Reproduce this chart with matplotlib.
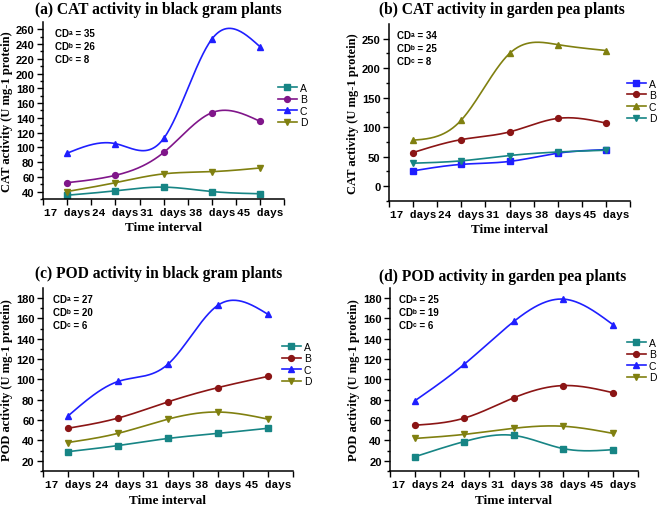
import numpy as np
import matplotlib
matplotlib.use("Agg")
import matplotlib.pyplot as plt

# dados
dias = ["17 days", "24 days", "31 days", "38 days", "45 days"]
series = ["A", "B", "C", "D"]

cat_preto_A = [35, 41, 46, 40, 37]
cat_preto_B = [52, 62, 93, 147, 135]
cat_preto_C = [92, 105, 112, 247, 236]
cat_preto_D = [40, 52, 64, 67, 72]

cat_ervilha_A = [26, 37, 42, 56, 62]
cat_ervilha_B = [57, 79, 92, 115, 107]
cat_ervilha_C = [78, 112, 225, 240, 230]
cat_ervilha_D = [39, 43, 52, 58, 61]

pod_preto_A = [29, 35, 42, 47, 52]
pod_preto_B = [52, 62, 78, 92, 103]
pod_preto_C = [64, 98, 115, 173, 164]
pod_preto_D = [38, 47, 61, 68, 61]

pod_ervilha_A = [24, 39, 45, 32, 31]
pod_ervilha_B = [55, 62, 82, 94, 87]
pod_ervilha_C = [79, 115, 157, 179, 154]
pod_ervilha_D = [42, 46, 52, 54, 47]

cd_valores = [(35, 26, 8), (34, 25, 8), (27, 20, 6), (25, 19, 6)]

TEAL = "#178585"
PURPLE = "#80168a"
BLUE = "#1f1fff"
OLIVE = "#808010"
DRED = "#8b1515"
marcadores = ["s", "o", "^", "v"]


def spline_natural(x, y, n=200):
    # spline cubica natural, so para desenhar a curva suave entre os pontos
    x = np.asarray(x, float)
    y = np.asarray(y, float)
    k = len(x)
    h = np.diff(x)
    A = np.zeros((k, k))
    b = np.zeros(k)
    A[0, 0] = 1
    A[-1, -1] = 1
    for i in range(1, k - 1):
        A[i, i - 1] = h[i - 1]
        A[i, i] = 2 * (h[i - 1] + h[i])
        A[i, i + 1] = h[i]
        b[i] = 6 * ((y[i + 1] - y[i]) / h[i] - (y[i] - y[i - 1]) / h[i - 1])
    M = np.linalg.solve(A, b)
    xs = np.linspace(x[0], x[-1], n)
    idx = np.clip(np.searchsorted(x, xs) - 1, 0, k - 2)
    x0, x1 = x[idx], x[idx + 1]
    hh = x1 - x0
    t0, t1 = x1 - xs, xs - x0
    ys = (M[idx] * t0 ** 3 + M[idx + 1] * t1 ** 3) / (6 * hh) \
        + (y[idx] / hh - M[idx] * hh / 6) * t0 \
        + (y[idx + 1] / hh - M[idx + 1] * hh / 6) * t1
    return xs, ys


paineis = [
    dict(titulo="(a) CAT activity in black gram plants",
         ylabel="CAT activity (U mg-1 protein)",
         dados=[cat_preto_A, cat_preto_B, cat_preto_C, cat_preto_D],
         cores=[TEAL, PURPLE, BLUE, OLIVE],
         ylim=(30, 270), yticks=np.arange(40, 261, 20),
         pos=[0.065, 0.608, 0.366, 0.347],
         titulo_xy=(0.240, 0.996), leg_xy=(0.421, 0.836), cd_x=0.05),
    dict(titulo="(b) CAT activity in garden pea plants",
         ylabel="CAT activity (U mg-1 protein)",
         dados=[cat_ervilha_A, cat_ervilha_B, cat_ervilha_C, cat_ervilha_D],
         cores=[BLUE, DRED, OLIVE, TEAL],
         ylim=(0, 275), yticks=np.arange(0, 251, 50),
         pos=[0.589, 0.604, 0.366, 0.347],
         titulo_xy=(0.761, 0.996), leg_xy=(0.950, 0.844), cd_x=0.035),
    dict(titulo="(c) POD activity in black gram plants",
         ylabel="POD activity (U mg-1 protein)",
         dados=[pod_preto_A, pod_preto_B, pod_preto_C, pod_preto_D],
         cores=[TEAL, DRED, BLUE, OLIVE],
         ylim=(20, 190), yticks=np.arange(20, 181, 20),
         pos=[0.065, 0.0745, 0.379, 0.359],
         titulo_xy=(0.240, 0.478), leg_xy=(0.427, 0.328), cd_x=0.04),
    dict(titulo="(d) POD activity in garden pea plants",
         ylabel="POD activity (U mg-1 protein)",
         dados=[pod_ervilha_A, pod_ervilha_B, pod_ervilha_C, pod_ervilha_D],
         cores=[TEAL, DRED, BLUE, OLIVE],
         ylim=(20, 190), yticks=np.arange(20, 181, 20),
         pos=[0.591, 0.0745, 0.375, 0.359],
         titulo_xy=(0.761, 0.472), leg_xy=(0.950, 0.336), cd_x=0.036),
]

fig = plt.figure(figsize=(6.6, 5.1), dpi=100)
xs = np.arange(1, len(dias) + 1)

for p, cd in zip(paineis, cd_valores):
    ax = fig.add_axes(p["pos"])
    for nome, ys, cor, m in zip(series, p["dados"], p["cores"], marcadores):
        sx, sy = spline_natural(xs, ys)
        ax.plot(sx, sy, color=cor, lw=1.2)
        ax.plot(xs, ys, ls="none", marker=m, ms=4.2, color=cor)
        # so para a legenda (linha + marcador)
        ax.plot([], [], color=cor, lw=1.2, marker=m, ms=4.2, label=nome)

    ax.set_xlim(0.5, 5.5)
    ax.set_ylim(*p["ylim"])
    ax.set_xticks(xs)
    ax.set_xticklabels(dias, family="Liberation Mono", fontweight="bold", fontsize=8)
    ax.set_xticks(np.arange(0.5, 5.6, 1.0), minor=True)
    ax.set_yticks(p["yticks"])
    passo = p["yticks"][1] - p["yticks"][0]
    ax.set_yticks(np.arange(p["yticks"][0] - passo / 2, p["ylim"][1], passo / 2), minor=True)
    for t in ax.get_yticklabels():
        t.set_family("Liberation Sans")
        t.set_fontweight("bold")
        t.set_fontsize(8)
    ax.tick_params(which="major", length=4, width=1, pad=2)
    ax.tick_params(which="minor", length=2.5, width=1)
    ax.tick_params(axis="x", which="both", length=4)
    ax.spines["top"].set_visible(False)
    ax.spines["right"].set_visible(False)
    ax.spines["left"].set_linewidth(1.1)
    ax.spines["bottom"].set_linewidth(1.1)

    ax.set_ylabel(p["ylabel"], family="Liberation Serif", fontweight="bold", fontsize=9, labelpad=2)
    ax.set_xlabel("Time interval", family="Liberation Serif", fontweight="bold", fontsize=9.5, labelpad=3)

    fig.text(p["titulo_xy"][0], p["titulo_xy"][1], p["titulo"], ha="center", va="top",
             family="Liberation Serif", fontweight="bold", fontsize=11.2)

    texto_cd = "CD\u1d43 = %d\nCD\u1d47 = %d\nCD\u1d9c = %d" % cd
    ax.text(p["cd_x"], 0.965, texto_cd, transform=ax.transAxes, ha="left", va="top",
            family=["Liberation Sans", "DejaVu Sans"], fontweight="bold", fontsize=7,
            linespacing=1.35)

    ax.legend(loc="upper left", bbox_to_anchor=p["leg_xy"], bbox_transform=fig.transFigure,
              frameon=False, handlelength=1.8, handletextpad=0.3,
              labelspacing=0.15, borderpad=0, borderaxespad=0,
              prop={"family": "Liberation Sans", "size": 7.5})

fig.savefig("out.png", dpi=100)
